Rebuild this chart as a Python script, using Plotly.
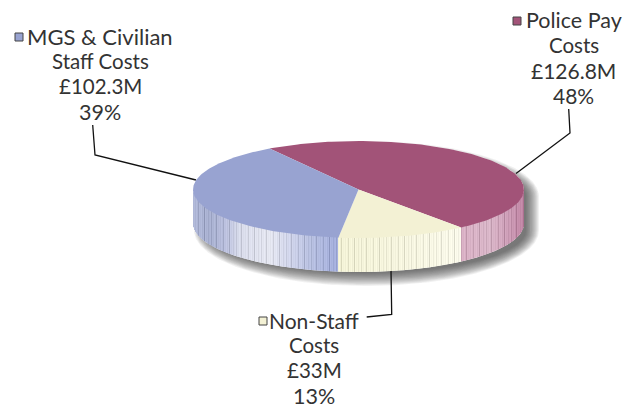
import numpy as np
import plotly.graph_objects as go

# Budget breakdown, in pie order (clockwise)
categories = [["Police Pay", "Costs"], ["Non-Staff", "Costs"], ["MGS & Civilian", "Staff Costs"]]
values_m = [126.8, 33, 102.3]
percents = [48, 13, 39]
top_colors = ["#a25378", "#f3f1d4", "#98a3d1"]
swatch_colors = ["#a25378", "#f3f1d4", "#98a3d1"]

# Pie geometry in pixels
CX, CY, RX, RY, DEPTH = 358.5, 189.5, 165.5, 48.5, 34
START_DEG = -32.5

# Rim shading for each slice: (x, colour) stops along the front wall
rim_stops = [
    [(462, (216, 176, 196)), (490, (217, 182, 200)), (510, (204, 155, 181)), (525, (190, 130, 162))],
    [(335, (243, 242, 214)), (400, (245, 244, 222)), (462, (249, 248, 234))],
    [(193, (176, 184, 216)), (210, (168, 176, 208)), (225, (184, 190, 220)), (240, (216, 219, 234)),
     (270, (228, 230, 240)), (290, (208, 212, 234)), (310, (184, 192, 224)), (336, (164, 175, 220))],
]
rim_ripple = [0, 4, -3, 6, 0, -20, 5, 2, 7, -4, 3, -30, 6, 0, 4, -9, 2, 6, -16, 3, 0, 7, -2, -26, 4]

label_anchor = [(573.5, 20), (314, 320), (100, 36)]
swatch_xy = [(517, 21), (263, 321), (19, 37)]
label_sizes = [[21.5, 20.5, 21, 21], [21, 20.5, 20.5, 21.5], [22, 20.5, 20.5, 21.5]]
leaders = [
    [(568.7, 109), (570, 133), (516, 173.5)],
    [(366.7, 317), (391.7, 314.3), (391, 270)],
    [(92.7, 125), (95, 155), (196, 180)],
]
LINE_GAP = 25.2

total = sum(values_m)
spans = [v / total * 360 for v in values_m]
edges = START_DEG + np.concatenate([[0], np.cumsum(spans)])


def ellipse_point(theta_deg, rx=RX, ry=RY, cy=CY, cx=CX):
    t = np.radians(theta_deg)
    return cx + rx * np.sin(t), cy - ry * np.cos(t)


fig = go.Figure()


def polygon(x, y, color):
    fig.add_trace(go.Scatter(x=x, y=y, mode="lines", fill="toself", fillcolor=color,
                             line=dict(width=0), hoverinfo="skip", showlegend=False))


# Soft drop shadow built from stacked translucent outlines
sweep_up = np.linspace(-90, 90, 200)
sweep_down = np.linspace(90, 270, 200)
for grow in np.linspace(7, -6, 14):
    ux, uy = ellipse_point(sweep_up, RX + grow, RY + grow, CY + 7, CX + 8)
    dx, dy = ellipse_point(sweep_down, RX + grow, RY + grow, CY + DEPTH + 7, CX + 8)
    polygon(np.r_[ux, dx], np.r_[uy, dy], "rgba(40,40,40,0.065)")

# Leader lines
for path in leaders:
    fig.add_trace(go.Scatter(x=[p[0] for p in path], y=[p[1] for p in path], mode="lines",
                             line=dict(color="#111111", width=1.3), hoverinfo="skip", showlegend=False))


def slice_at(theta):
    for i in range(len(values_m)):
        if edges[i] <= theta <= edges[i + 1]:
            return i
    return len(values_m) - 1


def rim_color(i, x, step):
    stops = rim_stops[i]
    xs = [s[0] for s in stops]
    rgb = [np.interp(x, xs, [s[1][c] for s in stops]) for c in range(3)]
    ripple = rim_ripple[step % len(rim_ripple)]
    return "rgb({},{},{})".format(*[int(np.clip(v + ripple, 0, 255)) for v in rgb])


# Opaque backing so the shadow cannot show through the wall columns
bx, by = ellipse_point(sweep_down, cy=CY + DEPTH)
tx, ty = ellipse_point(sweep_up)
polygon(np.r_[tx, bx], np.r_[ty, by], "#ffffff")

# Front wall, drawn as one-pixel vertical columns
for step, x in enumerate(np.arange(CX - RX + 0.5, CX + RX, 1.0)):
    s = np.clip((x - CX) / RX, -1, 1)
    theta = 180 - np.degrees(np.arcsin(s))
    y_top = CY + RY * np.sqrt(1 - s * s)
    fig.add_trace(go.Scatter(x=[x, x], y=[y_top - 1, y_top + DEPTH], mode="lines",
                             line=dict(color=rim_color(slice_at(theta), x, step), width=1),
                             hoverinfo="skip", showlegend=False))

# Top face wedges
for i, color in enumerate(top_colors):
    th = np.linspace(edges[i], edges[i + 1], 160)
    ex, ey = ellipse_point(th)
    polygon(np.r_[CX, ex, CX], np.r_[CY, ey, CY], color)

# Swatches and labels, one annotation per text line for exact spacing
for i, cat in enumerate(categories):
    sx, sy = swatch_xy[i]
    fig.add_trace(go.Scatter(x=[sx], y=[sy], mode="markers", hoverinfo="skip", showlegend=False,
                             marker=dict(symbol="square", size=8, color=swatch_colors[i],
                                         line=dict(color="#444444", width=1))))
    lx, ly = label_anchor[i]
    lines = [*cat, f"£{values_m[i]:g}M", f"{percents[i]}%"]
    for n, line in enumerate(lines):
        fig.add_annotation(x=lx, y=ly + n * LINE_GAP, text=line, showarrow=False,
                           xanchor="center", yanchor="middle", align="center",
                           font=dict(family="Lato", size=label_sizes[i][n], color="#333333"))

fig.update_layout(
    width=631, height=410, margin=dict(l=0, r=0, t=0, b=0),
    paper_bgcolor="white", plot_bgcolor="white", showlegend=False,
    xaxis=dict(range=[0, 631], visible=False, fixedrange=True),
    yaxis=dict(range=[410, 0], visible=False, fixedrange=True),
)
fig.write_html("out.html", config={"displayModeBar": False})
